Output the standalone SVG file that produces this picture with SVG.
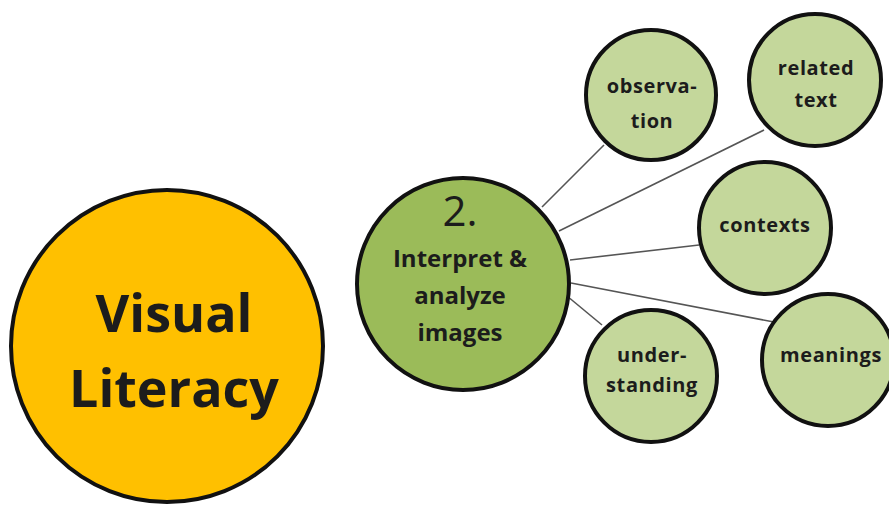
<svg xmlns="http://www.w3.org/2000/svg" width="889" height="505" viewBox="0 0 889 505">
<style>
.c{stroke:#111;stroke-width:4}
.y{fill:#FFC000}
.g{fill:#9BBB59}
.s{fill:#C4D79B}
.t{font-family:"Open Sans","Liberation Sans",sans-serif;font-weight:bold;fill:#1c1c1c;text-anchor:middle}
.n{font-weight:normal}
.sm{font-size:20px;letter-spacing:0.6px}
.ln{stroke:#555;stroke-width:1.6;fill:none}
</style>
<rect width="889" height="505" fill="#fff"/>
<g id="connectors">
<line class="ln" x1="542" y1="207" x2="604" y2="145"/>
<line class="ln" x1="559" y1="231" x2="764" y2="130"/>
<line class="ln" x1="570" y1="260" x2="699" y2="245"/>
<line class="ln" x1="571" y1="283" x2="774" y2="322"/>
<line class="ln" x1="567" y1="296" x2="602" y2="325"/>
</g>
<g id="visual-literacy">
<circle class="c y" cx="167" cy="346" r="156"/>
<text class="t" x="174" y="332" font-size="52">Visual</text>
<text class="t" x="174" y="407" font-size="52">Literacy</text>
</g>
<g id="interpret">
<circle class="c g" cx="463" cy="284" r="106"/>
<text class="t n" x="460" y="226" font-size="42">2.</text>
<text class="t" x="460" y="267" font-size="24">Interpret &amp;</text>
<text class="t" x="460" y="304" font-size="24">analyze</text>
<text class="t" x="460" y="341" font-size="24">images</text>
</g>
<g id="observation">
<circle class="c s" cx="651" cy="95" r="65"/>
<text class="t sm" x="652" y="93">observa-</text>
<text class="t sm" x="652" y="128">tion</text>
</g>
<g id="related-text">
<circle class="c s" cx="815" cy="80" r="66"/>
<text class="t sm" x="816" y="75">related</text>
<text class="t sm" x="816" y="107">text</text>
</g>
<g id="contexts">
<circle class="c s" cx="765" cy="228" r="66"/>
<text class="t sm" x="765" y="232">contexts</text>
</g>
<g id="meanings">
<circle class="c s" cx="828" cy="360" r="66"/>
<text class="t sm" x="831" y="362">meanings</text>
</g>
<g id="understanding">
<circle class="c s" cx="651" cy="376" r="66"/>
<text class="t sm" x="652" y="362">under-</text>
<text class="t sm" x="652" y="392">standing</text>
</g>
</svg>
